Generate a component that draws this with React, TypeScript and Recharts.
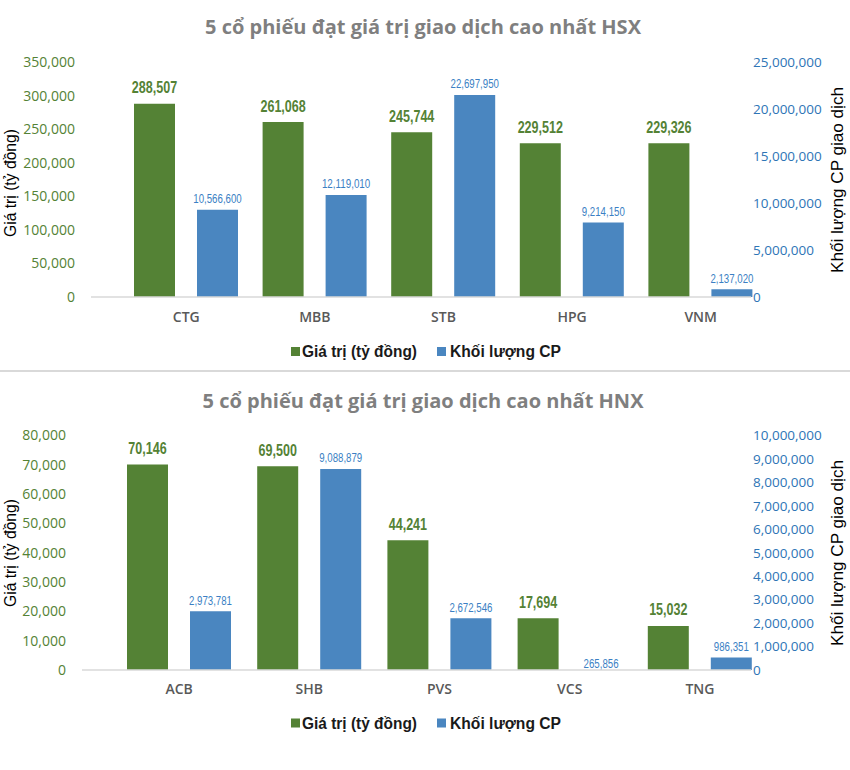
import React from 'react';
import { ComposedChart, Bar, XAxis, YAxis, LabelList } from 'recharts';

// ---------- data ----------
const hsxCategories = ['CTG', 'MBB', 'STB', 'HPG', 'VNM'];
const hsxValues = [288507, 261068, 245744, 229512, 229326];
const hsxVolumes = [10566600, 12119010, 22697950, 9214150, 2137020];
const hsxValueTicks = [0, 50000, 100000, 150000, 200000, 250000, 300000, 350000];
const hsxVolumeTicks = [0, 5000000, 10000000, 15000000, 20000000, 25000000];

const hnxCategories = ['ACB', 'SHB', 'PVS', 'VCS', 'TNG'];
const hnxValues = [70146, 69500, 44241, 17694, 15032];
const hnxVolumes = [2973781, 9088879, 2672546, 265856, 986351];
const hnxValueTicks = [0, 10000, 20000, 30000, 40000, 50000, 60000, 70000, 80000];
const hnxVolumeTicks = [0, 1000000, 2000000, 3000000, 4000000, 5000000, 6000000, 7000000, 8000000, 9000000, 10000000];

const seriesNames = ['Giá trị (tỷ đồng)', 'Khối lượng CP'];
const leftAxisTitle = 'Giá trị (tỷ đồng)';
const rightAxisTitle = 'Khối lượng CP giao dịch';

// ---------- styles ----------
const GREEN = '#548235';
const BLUE = '#4a86c0';
const BLUE_TEXT = '#2e75b6';
const BLUE_LABEL = '#3b7fc4';
const GRID = '#d9d9d9';
const SANS = "'Open Sans', 'Noto Sans', sans-serif";
const ARIAL = "'Liberation Sans', Arial, sans-serif";

const fmt = (v: any) => Number(v).toLocaleString('en-US');

// narrow-font text width emulation (digit / comma advance in px)
const narrowWidth = (s: string, digitW: number, commaW: number) => {
  let w = 0;
  for (const ch of s) w += ch === ',' ? commaW : digitW;
  return w;
};

function makeLabel(color: string, fontSize: number, weight: number, gap: number, digitW: number, commaW: number) {
  return (props: any) => {
    const vb = props.viewBox || props;
    const x = Number(vb.x);
    const y = Number(vb.y);
    const w = Number(vb.width);
    const h = Number(vb.height);
    if (!isFinite(x) || !isFinite(y)) return null;
    const valueY = h >= 0 ? y : Math.max(y, y + h);
    const s = fmt(props.value);
    return (
      <text
        x={x + w / 2}
        y={valueY - gap}
        textAnchor="middle"
        fill={color}
        fontSize={fontSize}
        fontWeight={weight}
        fontFamily={ARIAL}
        textLength={narrowWidth(s, digitW, commaW)}
        lengthAdjust="spacingAndGlyphs"
      >
        {s}
      </text>
    );
  };
}

type PanelProps = {
  categories: string[];
  values: number[];
  volumes: number[];
  valueTicks: number[];
  volumeTicks: number[];
  volumeBarDomain: [number, number];
  top: number;
  height: number;
  margin: { top: number; right: number; bottom: number; left: number };
  padLeft: number;
  catMargin: number;
};

function Panel(p: PanelProps) {
  const data = p.categories.map((name, i) => ({ name, value: p.values[i], volume: p.volumes[i] }));
  return (
    <div style={{ position: 'absolute', left: 0, top: p.top }}>
      <ComposedChart width={850} height={p.height} data={data} margin={p.margin} barGap={22}>
        <XAxis
          dataKey="name"
          height={30}
          tickSize={0}
          tickMargin={p.catMargin}
          tickLine={false}
          axisLine={{ stroke: GRID, strokeWidth: 1.5 }}
          padding={{ left: p.padLeft, right: -14 }}
          tick={{ fill: '#595959', fontSize: 14, fontWeight: 600, fontFamily: SANS }}
        />
        <YAxis
          yAxisId="val"
          orientation="left"
          width={60}
          domain={[p.valueTicks[0], p.valueTicks[p.valueTicks.length - 1]]}
          ticks={p.valueTicks}
          allowDataOverflow
          axisLine={false}
          tickLine={false}
          tickSize={0}
          tickMargin={16}
          tickFormatter={fmt}
          tick={{ fill: GREEN, fontSize: 14, fontFamily: SANS }}
        />
        <YAxis yAxisId="vol" orientation="right" hide width={0} domain={p.volumeBarDomain} allowDataOverflow />
        <YAxis
          yAxisId="volTicks"
          orientation="right"
          width={80}
          domain={[p.volumeTicks[0], p.volumeTicks[p.volumeTicks.length - 1]]}
          ticks={p.volumeTicks}
          allowDataOverflow
          axisLine={false}
          tickLine={false}
          tickSize={0}
          tickMargin={2}
          tickFormatter={fmt}
          tick={{ fill: BLUE_TEXT, fontSize: 13.5, fontFamily: SANS, textAnchor: 'start' }}
        />
        <Bar dataKey="value" name={seriesNames[0]} yAxisId="val" fill={GREEN} barSize={41} isAnimationActive={false}>
          <LabelList dataKey="value" content={makeLabel(GREEN, 16.5, 700, 10.5, 7.0, 3.3)} />
        </Bar>
        <Bar dataKey="volume" name={seriesNames[1]} yAxisId="vol" fill={BLUE} barSize={41} isAnimationActive={false}>
          <LabelList dataKey="volume" content={makeLabel(BLUE_LABEL, 12.5, 400, 6.7, 5.4, 2.6)} />
        </Bar>
      </ComposedChart>
    </div>
  );
}

function Legend({ y }: { y: number }) {
  return (
    <g>
      <rect x={291} y={y - 10} width={9} height={9} fill={GREEN} />
      <text x={302} y={y} fontFamily={ARIAL} fontWeight={700} fontSize={16} fill="#1a1a1a" textLength={115} lengthAdjust="spacingAndGlyphs">
        {seriesNames[0]}
      </text>
      <rect x={437} y={y - 10} width={9} height={9} fill={BLUE} />
      <text x={450} y={y} fontFamily={ARIAL} fontWeight={700} fontSize={16} fill="#1a1a1a" textLength={111} lengthAdjust="spacingAndGlyphs">
        {seriesNames[1]}
      </text>
    </g>
  );
}

export default function App() {
  return (
    <div style={{ position: 'absolute', left: 0, top: 0, width: 850, height: 770, background: '#fff', overflow: 'hidden' }}>
      <Panel
        categories={hsxCategories}
        values={hsxValues}
        volumes={hsxVolumes}
        valueTicks={hsxValueTicks}
        volumeTicks={hsxVolumeTicks}
        volumeBarDomain={[1330000, 26130000]}
        top={0}
        height={372}
        margin={{ top: 62.5, right: 19, bottom: 45, left: 31 }}
        padLeft={31}
        catMargin={15}
      />
      <Panel
        categories={hnxCategories}
        values={hnxValues}
        volumes={hnxVolumes}
        valueTicks={hnxValueTicks}
        volumeTicks={hnxVolumeTicks}
        volumeBarDomain={[451000, 10530000]}
        top={372}
        height={398}
        margin={{ top: 63.5, right: 19, bottom: 70, left: 22 }}
        padLeft={32}
        catMargin={14}
      />
      <svg width={850} height={770} style={{ position: 'absolute', left: 0, top: 0, pointerEvents: 'none' }}>
        <text x={423} y={34} textAnchor="middle" fontFamily={SANS} fontWeight={700} fontSize={19} fill="#7f7f7f" textLength={436} lengthAdjust="spacingAndGlyphs">
          5 cổ phiếu đạt giá trị giao dịch cao nhất HSX
        </text>
        <text x={423} y={408} textAnchor="middle" fontFamily={SANS} fontWeight={700} fontSize={19} fill="#7f7f7f" textLength={441} lengthAdjust="spacingAndGlyphs">
          5 cổ phiếu đạt giá trị giao dịch cao nhất HNX
        </text>
        <line x1={0} x2={850} y1={371} y2={371} stroke={GRID} strokeWidth={2} />
        <text transform="translate(16,183) rotate(-90)" textAnchor="middle" fontFamily={ARIAL} fontSize={16} fill="#000" textLength={108} lengthAdjust="spacingAndGlyphs">
          {leftAxisTitle}
        </text>
        <text transform="translate(16,553) rotate(-90)" textAnchor="middle" fontFamily={ARIAL} fontSize={16} fill="#000" textLength={108} lengthAdjust="spacingAndGlyphs">
          {leftAxisTitle}
        </text>
        <text transform="translate(843,180) rotate(-90)" textAnchor="middle" fontFamily={ARIAL} fontSize={17} fill="#000" textLength={186} lengthAdjust="spacingAndGlyphs">
          {rightAxisTitle}
        </text>
        <text transform="translate(843,553) rotate(-90)" textAnchor="middle" fontFamily={ARIAL} fontSize={17} fill="#000" textLength={186} lengthAdjust="spacingAndGlyphs">
          {rightAxisTitle}
        </text>
        <Legend y={357} />
        <Legend y={728.5} />
      </svg>
    </div>
  );
}
